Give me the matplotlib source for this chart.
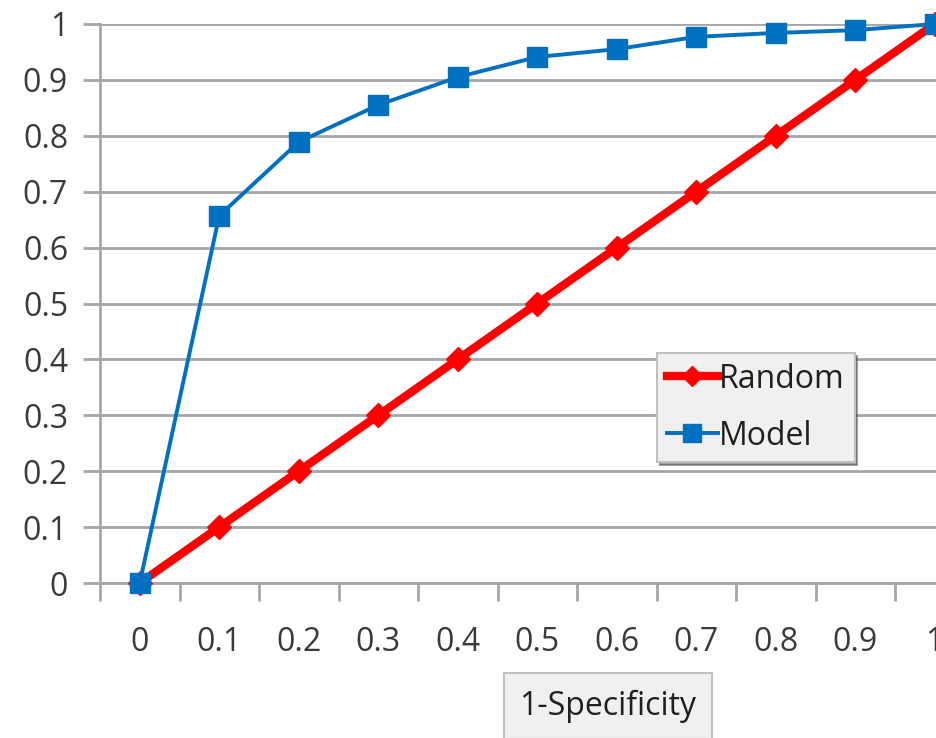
import matplotlib
matplotlib.use("Agg")
import matplotlib.pyplot as plt
import numpy as np

categories = ["0", "0.1", "0.2", "0.3", "0.4", "0.5", "0.6", "0.7", "0.8", "0.9", "1"]
random_vals = [0.0, 0.1, 0.2, 0.3, 0.4, 0.5, 0.6, 0.7, 0.8, 0.9, 1.0]
model_vals = [0.0, 0.657, 0.789, 0.855, 0.905, 0.941, 0.955, 0.977, 0.984, 0.989, 1.0]
y_ticks = [0, 0.1, 0.2, 0.3, 0.4, 0.5, 0.6, 0.7, 0.8, 0.9, 1]
y_labels = ["0", "0.1", "0.2", "0.3", "0.4", "0.5", "0.6", "0.7", "0.8", "0.9", "1"]

plt.rcParams['font.family'] = ['Open Sans', 'DejaVu Sans']
W, H = 936, 738
fig = plt.figure(figsize=(W/100, H/100), dpi=100)
left_px, axis_px, top_px = 100, 583, 24
step = 79.5
ax = fig.add_axes([left_px/W, (H-axis_px)/H, 11*step/W, (axis_px-top_px)/H])
x = np.arange(len(categories))
grid_c = '#a6a6a6'
txt_c = '#3a3a3a'
fs = 23

ax.set_xlim(-0.5, 10.5)
ax.set_ylim(0, 1)
for s in ['top', 'right']:
    ax.spines[s].set_visible(False)
for s in ['left', 'bottom']:
    ax.spines[s].set_color(grid_c)
    ax.spines[s].set_linewidth(2)
ax.set_yticks(y_ticks)
ax.set_yticklabels(y_labels)
ax.yaxis.grid(True, color=grid_c, linewidth=2)
ax.set_axisbelow(True)
ax.tick_params(axis='y', length=12, width=2, color=grid_c, labelsize=fs, labelcolor=txt_c, pad=11)
ax.set_xticks(np.arange(-0.5, 11, 1))
ax.set_xticklabels([])
ax.tick_params(axis='x', which='major', length=13, width=2, color=grid_c)
ax.set_xticks(x, minor=True)
ax.set_xticklabels(categories, minor=True)
ax.tick_params(axis='x', which='minor', length=0, labelsize=fs, labelcolor=txt_c, pad=31)

ax.plot(x, random_vals, color='#ff0000', linewidth=6, marker='D', markersize=12,
        label='Random', clip_on=False, zorder=3)
ax.plot(x, model_vals, color='#0070c0', linewidth=2.8, marker='s', markersize=15,
        label='Model', clip_on=False, zorder=4)

leg = ax.legend(loc='upper left', bbox_to_anchor=(657/W, 1-353/H), bbox_transform=fig.transFigure,
                fontsize=fs, frameon=True, fancybox=False, shadow=True, handlelength=1.6,
                handletextpad=0.05, labelspacing=0.75, borderpad=0.3, borderaxespad=0,
                markerscale=0.85)
leg.get_frame().set_facecolor('#f0f0f0')
leg.get_frame().set_edgecolor('#c0c0c0')
leg.get_frame().set_linewidth(1.5)
for t in leg.get_texts():
    t.set_color('#202020')

fig.text(608/W, 1-706/H, '1-Specificity', fontsize=fs, color='#202020', ha='center', va='center',
         bbox=dict(boxstyle='square,pad=0.5', facecolor='#f0f0f0', edgecolor='#c0c0c0', linewidth=1.5))

fig.savefig('out.png', dpi=100)
